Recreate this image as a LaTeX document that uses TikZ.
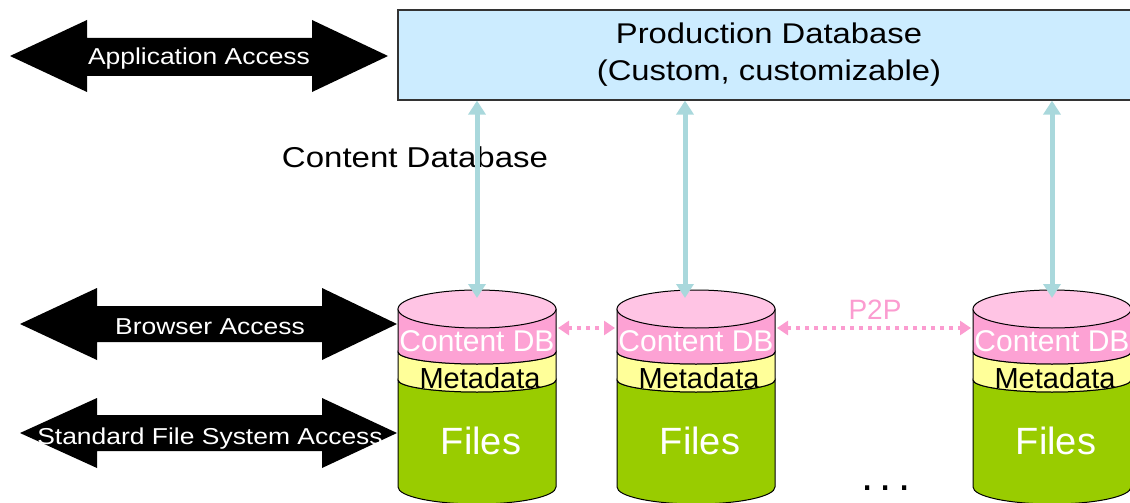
\documentclass[tikz,border=0pt]{standalone}
\usepackage{fontspec}
\setmainfont{Liberation Sans}
\newfontfamily\widefont{Liberation Sans}[FakeStretch=1.15]
\usetikzlibrary{arrows.meta}

\definecolor{prodblue}{HTML}{CCECFF}
\definecolor{syncblue}{HTML}{A9D8DC}
\definecolor{toppink}{HTML}{FFC4E4}
\definecolor{dbpink}{HTML}{FDA2D4}
\definecolor{p2ppink}{HTML}{FB9CD0}
\definecolor{metayellow}{HTML}{FFFF99}
\definecolor{filesgreen}{HTML}{99CC00}

\tikzset{
    accesslabel/.style={text=white, inner sep=0pt, anchor=base, font=\widefont\fontsize{23}{26}\selectfont},
    prodbox/.style={draw=black!80, line width=1.2pt, fill=prodblue, inner sep=0pt,
        minimum width=742pt, minimum height=90pt, align=center, font=\widefont\fontsize{28.5}{37}\selectfont},
    dblabel/.style={text=white, inner sep=0pt, anchor=base, font=\fontsize{30}{32}\selectfont},
    metalabel/.style={text=black, inner sep=0pt, anchor=base, font=\fontsize{29}{32}\selectfont},
    fileslabel/.style={text=white, inner sep=0pt, anchor=base, font=\fontsize{38}{40}\selectfont},
    syncline/.style={draw=syncblue, line width=5pt,
        {Triangle[width=17pt,length=14pt]}-{Triangle[width=17pt,length=14pt]}},
    p2pline/.style={draw=p2ppink, line width=4pt, dash pattern=on 4pt off 5pt,
        {Triangle[width=14pt,length=11pt]}-{Triangle[width=14pt,length=11pt]}},
    cyl/.style={draw=black, line width=1pt},
}

\begin{document}
\begin{tikzpicture}[x=1pt, y=1pt]
    \useasboundingbox (0,0) rectangle (1130,-503);

    % access arrows on the left
    \fill[black] (10,-56) -- (87,-20) -- (87,-38) -- (312,-38) -- (312,-20) -- (388,-56)
        -- (312,-92) -- (312,-76) -- (87,-76) -- (87,-92) -- cycle;
    \node[accesslabel] (app) at (199,-64) {Application Access};

    \fill[black] (20,-324) -- (97,-288) -- (97,-306) -- (322,-306) -- (322,-288) -- (397,-324)
        -- (322,-360) -- (322,-342) -- (97,-342) -- (97,-360) -- cycle;
    \node[accesslabel] (browser) at (210,-334) {Browser Access};

    \fill[black] (20,-433) -- (97,-398) -- (97,-415) -- (322,-415) -- (322,-398) -- (397,-433)
        -- (322,-468) -- (322,-451) -- (97,-451) -- (97,-468) -- cycle;
    \node[accesslabel] (fsaccess) at (210,-444) {Standard File System Access};

    % production database
    \node[prodbox] (prod) at (769,-55) {Production Database\\(Custom, customizable)};
    \node[inner sep=0pt, anchor=base, font=\widefont\fontsize{28.7}{32}\selectfont] (cdbtitle) at (415,-167) {Content Database};

    % content databases
    \begin{scope}[xshift=477pt]
        \filldraw[cyl, fill=filesgreen] (-79,-380) arc[start angle=180, end angle=360, x radius=79pt, y radius=12pt]
            -- (79,-487) arc[start angle=360, end angle=180, x radius=79pt, y radius=17pt] -- cycle;
        \filldraw[cyl, fill=metayellow] (-79,-352) arc[start angle=180, end angle=360, x radius=79pt, y radius=12pt]
            -- (79,-380) arc[start angle=360, end angle=180, x radius=79pt, y radius=12pt] -- cycle;
        \filldraw[cyl, fill=dbpink] (-79,-309) -- (-79,-352) arc[start angle=180, end angle=360, x radius=79pt, y radius=12pt]
            -- (79,-309) -- cycle;
        \filldraw[cyl, fill=toppink] (0,-309) ellipse[x radius=79pt, y radius=19pt];
        \node[dblabel] (cdb1) at (0,-351) {Content DB};
        \node[metalabel] (meta1) at (3,-388) {Metadata};
        \node[fileslabel] (files1) at (4,-454) {Files};
        \coordinate (in1) at (0,-298);
        \coordinate (r1) at (81,-328);
    \end{scope}

    \begin{scope}[xshift=696pt]
        \filldraw[cyl, fill=filesgreen] (-79,-380) arc[start angle=180, end angle=360, x radius=79pt, y radius=12pt]
            -- (79,-487) arc[start angle=360, end angle=180, x radius=79pt, y radius=17pt] -- cycle;
        \filldraw[cyl, fill=metayellow] (-79,-352) arc[start angle=180, end angle=360, x radius=79pt, y radius=12pt]
            -- (79,-380) arc[start angle=360, end angle=180, x radius=79pt, y radius=12pt] -- cycle;
        \filldraw[cyl, fill=dbpink] (-79,-309) -- (-79,-352) arc[start angle=180, end angle=360, x radius=79pt, y radius=12pt]
            -- (79,-309) -- cycle;
        \filldraw[cyl, fill=toppink] (0,-309) ellipse[x radius=79pt, y radius=19pt];
        \node[dblabel] (cdb2) at (0,-351) {Content DB};
        \node[metalabel] (meta2) at (3,-388) {Metadata};
        \node[fileslabel] (files2) at (4,-454) {Files};
        \coordinate (in2) at (-11,-298);
        \coordinate (l2) at (-81,-328);
        \coordinate (r2) at (81,-328);
    \end{scope}

    \begin{scope}[xshift=1052pt]
        \filldraw[cyl, fill=filesgreen] (-79,-380) arc[start angle=180, end angle=360, x radius=79pt, y radius=12pt]
            -- (79,-487) arc[start angle=360, end angle=180, x radius=79pt, y radius=17pt] -- cycle;
        \filldraw[cyl, fill=metayellow] (-79,-352) arc[start angle=180, end angle=360, x radius=79pt, y radius=12pt]
            -- (79,-380) arc[start angle=360, end angle=180, x radius=79pt, y radius=12pt] -- cycle;
        \filldraw[cyl, fill=dbpink] (-79,-309) -- (-79,-352) arc[start angle=180, end angle=360, x radius=79pt, y radius=12pt]
            -- (79,-309) -- cycle;
        \filldraw[cyl, fill=toppink] (0,-309) ellipse[x radius=79pt, y radius=19pt];
        \node[dblabel] (cdb3) at (0,-351) {Content DB};
        \node[metalabel] (meta3) at (3,-388) {Metadata};
        \node[fileslabel] (files3) at (4,-454) {Files};
        \coordinate (in3) at (0,-298);
        \coordinate (l3) at (-81,-328);
    \end{scope}

    % links to the production database
    \draw[syncline] (in1) -- (in1 |- prod.south);
    \draw[syncline] (in2) -- (in2 |- prod.south);
    \draw[syncline] (in3) -- (in3 |- prod.south);

    % peer to peer
    \draw[p2pline] (r1) -- (l2);
    \draw[p2pline] (r2) -- (l3);
    \node[text=p2ppink, inner sep=0pt, anchor=base, font=\fontsize{28}{30}\selectfont] (p2p) at (875,-319) {P2P};

    \node[inner sep=0pt, anchor=base, font=\fontsize{44}{44}\selectfont] (more) at (886,-490) {.\kern6pt.\kern6pt.};
\end{tikzpicture}
\end{document}
